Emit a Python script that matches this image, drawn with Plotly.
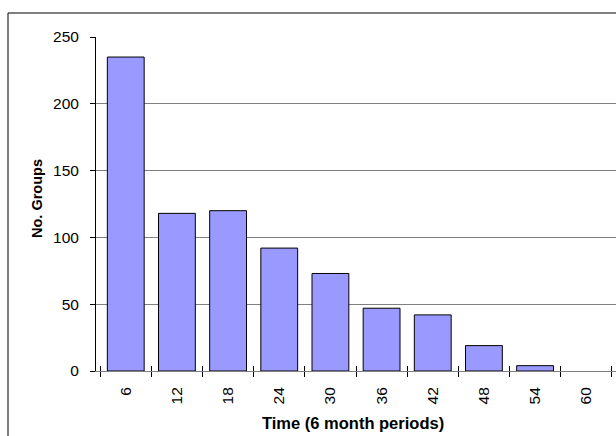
import plotly.graph_objects as go

categories = ["6", "12", "18", "24", "30", "36", "42", "48", "54", "60"]
values = [235, 118, 120, 92, 73, 47, 42, 19, 4, 0]
y_ticks = [0, 50, 100, 150, 200, 250]
x_title = "Time (6 month periods)"
y_title = "No. Groups"

FONT = "Liberation Sans, Arial, sans-serif"

fig = go.Figure()
fig.add_trace(go.Bar(
    x=categories, y=values,
    marker=dict(color="#9999FF",
                line=dict(color="#000000", width=[1 if v > 0 else 0 for v in values])),
    hoverinfo="skip", showlegend=False,
))
# invisible trace to carry the inner half of the crossing x ticks
fig.add_trace(go.Scatter(
    x=categories, y=[0] * len(categories), xaxis="x2",
    mode="markers", marker=dict(opacity=0), hoverinfo="skip", showlegend=False,
))

fig.update_layout(
    width=616, height=436,
    margin=dict(l=96, r=0, t=37, b=65),
    paper_bgcolor="white", plot_bgcolor="white",
    bargap=0.28,
    font=dict(family=FONT, color="#000000"),
    xaxis=dict(
        type="category", categoryorder="array", categoryarray=categories,
        tickson="boundaries", ticks="outside", ticklen=5, tickwidth=1, tickcolor="#000000",
        tickangle=-90, tickfont=dict(size=15.5, family=FONT), ticklabelstandoff=9,
        showline=True, linecolor="#808080", linewidth=1,
        showgrid=False, zeroline=False,
    ),
    xaxis2=dict(
        type="category", categoryorder="array", categoryarray=categories,
        overlaying="x", anchor="y", side="bottom", matches="x",
        tickson="boundaries", ticks="inside", ticklen=5, tickwidth=1, tickcolor="#000000",
        showticklabels=False, showline=False, showgrid=False, zeroline=False,
    ),
    yaxis=dict(
        range=[0, 250], tickvals=y_ticks,
        ticks="outside", ticklen=5, tickwidth=1, tickcolor="#000000",
        tickfont=dict(size=15.5, family=FONT), ticklabelstandoff=8,
        showline=True, linecolor="#000000", linewidth=1,
        showgrid=True, gridcolor="#808080", gridwidth=1, zeroline=False,
    ),
    annotations=[
        dict(text="<b>" + x_title + "</b>", xref="paper", yref="paper",
             x=(353 - 96) / 520, y=(371 - 423) / 334, xanchor="center", yanchor="middle",
             showarrow=False, font=dict(size=16.5, family=FONT)),
        dict(text="<b>" + y_title + "</b>", xref="paper", yref="paper",
             x=(37 - 96) / 520, y=(371 - 199) / 334, xanchor="center", yanchor="middle",
             textangle=-90, showarrow=False, font=dict(size=14.5, family=FONT)),
    ],
    shapes=[dict(
        type="rect", xref="paper", yref="paper",
        x0=(8 - 96) / 520, x1=1.2, y0=-0.5, y1=(371 - 13) / 334,
        line=dict(color="#000000", width=1), fillcolor="rgba(0,0,0,0)", layer="below",
    )],
)

fig.write_html("out.html")
